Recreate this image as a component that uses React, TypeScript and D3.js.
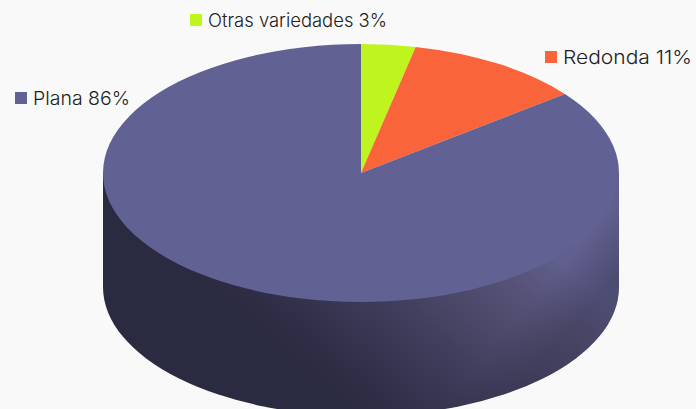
import React from "react";
import * as d3 from "d3";

const categories = ["Otras variedades", "Redonda", "Plana"];
const labelPercents = ["3%", "11%", "86%"];
// slice sizes, the printed labels are rounded
const sliceValues = [3.4, 11.1, 85.5];
const colors = ["#bff41e", "#fa643a", "#626193"];

const width = 696;
const height = 409;
const cx = 361;
const cy = 173;
const rx = 258;
const squash = 0.5;
const depth = 114;

const labelX = [190, 545, 15];
const labelY = [27, 64, 105];
const labelWidth = [179, 129, 97];

const App = () => {
  const pie = d3.pie<number>().sort(null).startAngle(0).endAngle(2 * Math.PI);
  const arc = d3.arc<d3.PieArcDatum<number>>().innerRadius(0).outerRadius(rx);
  const slices = pie(sliceValues);
  const ry = rx * squash;

  const wall = `M${cx - rx},${cy} L${cx - rx},${cy + depth} A${rx},${ry} 0 0 0 ${cx + rx},${cy + depth} L${cx + rx},${cy} Z`;

  return (
    <svg
      width={width}
      height={height}
      style={{ position: "absolute", left: 0, top: 0, background: "#f9f9f9" }}
      fontFamily="'Inter', sans-serif"
    >
      <defs>
        <linearGradient id="wallShade" gradientUnits="userSpaceOnUse" x1={200} y1={282} x2={368} y2={91}>
          <stop offset="0" stopColor="#2a2a40" />
          <stop offset="0.1" stopColor="#2e2d45" />
          <stop offset="0.42" stopColor="#3f3d5b" />
          <stop offset="0.82" stopColor="#575378" />
          <stop offset="1" stopColor="#605f8e" />
        </linearGradient>
        <linearGradient id="edgeShade" gradientUnits="userSpaceOnUse" x1={590} y1={235} x2={625} y2={265}>
          <stop offset="0" stopColor="#2a2a40" stopOpacity={0} />
          <stop offset="1" stopColor="#2a2a40" stopOpacity={0.35} />
        </linearGradient>
      </defs>
      <path d={wall} fill="url(#wallShade)" />
      <g transform={`translate(${cx},${cy}) scale(1,${squash})`}>
        {slices.map((d, i) => (
          <path key={categories[i]} d={arc(d) ?? ""} fill={colors[i]} />
        ))}
      </g>
      <path d={wall} fill="url(#edgeShade)" />
      {categories.map((name, i) => (
        <g key={name}>
          <rect x={labelX[i]} y={labelY[i] - 13} width={12} height={12} fill={colors[i]} />
          <text
            x={labelX[i] + 18}
            y={labelY[i]}
            fontSize={18.5}
            fontWeight={300}
            fill="#222"
            textLength={labelWidth[i]}
            lengthAdjust="spacingAndGlyphs"
          >
            {`${name} ${labelPercents[i]}`}
          </text>
        </g>
      ))}
    </svg>
  );
};

export default App;
